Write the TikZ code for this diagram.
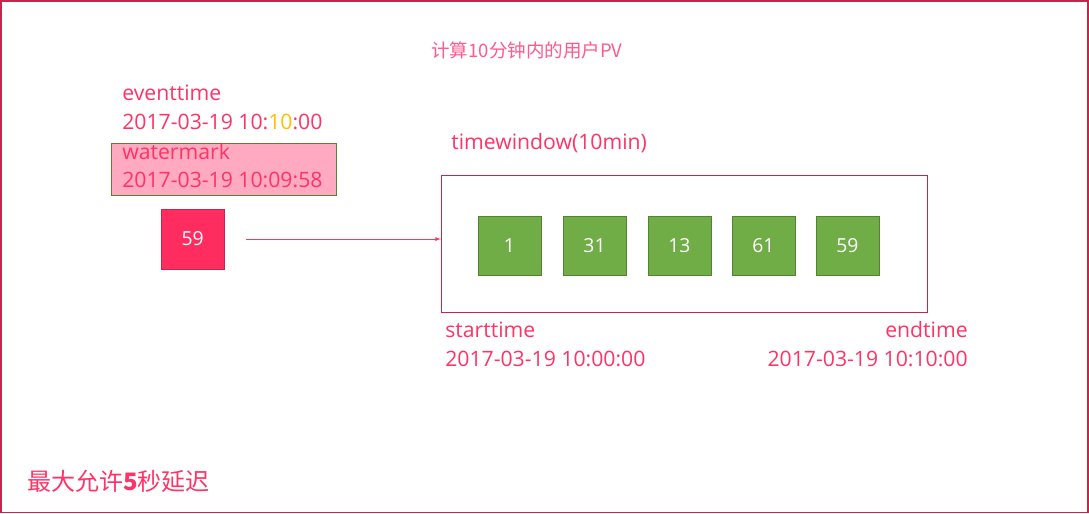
\documentclass[tikz,border=0pt]{standalone}
\usepackage{fontspec}
\setmainfont{Open Sans}
\newfontfamily\cjk{Noto Sans CJK SC}
\usetikzlibrary{positioning}
\definecolor{txtred}{RGB}{255,51,102}
\definecolor{titred}{RGB}{255,90,140}
\definecolor{edgered}{RGB}{199,37,78}
\definecolor{boxred}{RGB}{255,45,95}
\definecolor{wmpink}{RGB}{255,170,192}
\definecolor{grfill}{RGB}{112,173,71}
\definecolor{grdraw}{RGB}{84,130,53}
\definecolor{hlyellow}{RGB}{255,192,0}
\begin{document}
\begin{tikzpicture}[x=0.75pt, y=-0.75pt,
    lbl/.style = {text=txtred, inner sep=0pt, font=\fontsize{15.9}{18}\selectfont},
    val/.style = {draw=grdraw, fill=grfill, text=white, minimum width=47pt, minimum height=44pt, inner sep=0pt, font=\fontsize{14.5}{16}\selectfont},
    evt/.style = {draw=edgered, fill=boxred, text=white, minimum width=47pt, minimum height=45pt, inner sep=0pt, font=\fontsize{14.5}{16}\selectfont}]
    % cornice esterna
    \draw[edgered, line width=1.2pt] (0.7,0.7) rectangle (1088.3,512.3);
    \useasboundingbox (0,0) rectangle (1089,513);

    % titolo
    \node[inner sep=0pt, text=titred, font=\cjk\fontsize{13.9}{16}\selectfont] (title) at (527,50) {计算10分钟内的用户PV};

    % evento in arrivo
    \node[lbl, anchor=west] (evlbl) at (122,93) {eventtime};
    \node[lbl, anchor=west] (evtime) at (122,122) {2017-03-19 10:\textcolor{hlyellow}{10}:00};
    \node[draw=grdraw, fill=wmpink, minimum width=168.75pt, minimum height=39pt, inner sep=0pt] (wmbox) at (223.5,169) {};
    \node[lbl, anchor=west] (wmlbl) at (122,151) {watermark};
    \node[lbl, anchor=west] (wmtime) at (122,180) {2017-03-19 10:09:58};
    \node[evt] (ev) at (192.5,239) {59};

    % finestra
    \node[lbl, anchor=west] (winlbl) at (451,143) {timewindow(10min)};
    \node[draw=edgered, minimum width=364.5pt, minimum height=102.75pt, inner sep=0pt] (win) at (684,243.5) {};
    \coordinate (src) at (246,239);
    \draw[txtred, -latex] (src) -- (win.west |- src);

    \foreach \v/\x [count=\i] in {1/509.5, 31/594.5, 13/679.5, 61/763.5, 59/847.5}
        \node[val] (w\i) at (\x,245.5) {\v};

    \node[lbl, anchor=west] (stlbl) at (445,330) {starttime};
    \node[lbl, anchor=west] (sttime) at (445,359) {2017-03-19 10:00:00};
    \node[lbl, anchor=east] (enlbl) at (968,330) {endtime};
    \node[lbl, anchor=east] (entime) at (968,359) {2017-03-19 10:10:00};

    % ritardo
    \node[inner sep=0pt, anchor=west, text=txtred, font=\cjk\fontsize{18}{20}\selectfont] (delay) at (27,481) {最大允许\textbf{5}秒延迟};
\end{tikzpicture}
\end{document}
